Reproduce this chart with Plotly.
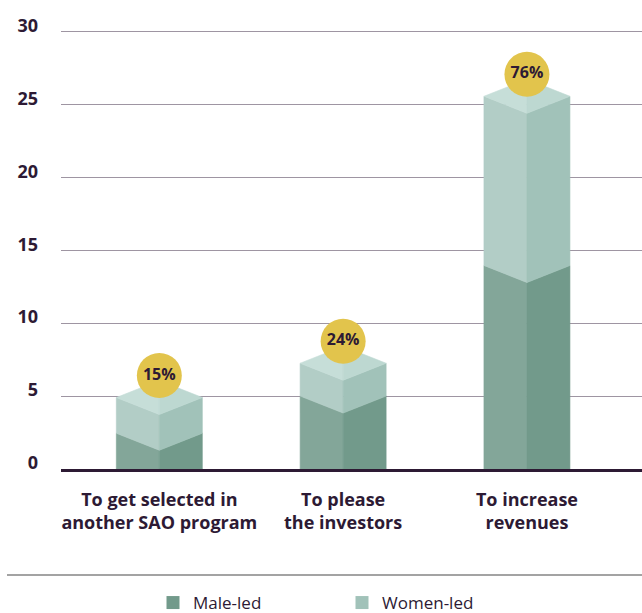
import plotly.graph_objects as go

# ---------------- data ----------------
categories = ["To get selected in<br>another SAO program", "To please<br>the investors", "To increase<br>revenues"]
male_led = [2.45, 5.0, 13.95]
women_led = [2.45, 2.25, 11.6]
share_labels = ["15%", "24%", "76%"]
legend_names = ["Male-led", "Women-led"]
y_ticks = [0, 5, 10, 15, 20, 25, 30]

# ---------------- style ----------------
W, H = 642, 613
M_L, M_R, M_T, M_B = 61, 0, 27, 144
Y_MAX = 30.3
X_RANGE = [-0.535, 2.626]
plot_w = W - M_L - M_R
plot_h = H - M_T - M_B
px_x = plot_w / (X_RANGE[1] - X_RANGE[0])
px_y = plot_h / Y_MAX

HALF_W = 43 / px_x          # half bar width in x units
DEPTH = 17 / px_y           # isometric drop in y units
BADGE_OFF = 22 / px_y       # badge centre above bar top

TXT = "#2d1a34"
C_MALE_L, C_MALE_R = "#83a699", "#729a8b"
C_WOM_L, C_WOM_R = "#b2cdc6", "#a1c2b9"
C_TOP_L, C_TOP_R = "#c6ded8", "#bdd8d1"
C_BADGE = "#e2c44c"
FONT = "Open Sans"

fig = go.Figure()


def poly(xs, ys, color):
    fig.add_trace(go.Scatter(
        x=xs + [xs[0]], y=ys + [ys[0]], mode="lines", fill="toself",
        fillcolor=color, line=dict(color=color, width=0.6),
        hoverinfo="skip", showlegend=False))


for i, (m, w) in enumerate(zip(male_led, women_led)):
    L, C, R = i - HALF_W, i, i + HALF_W
    t = m + w
    # male segment
    poly([L, L, C, C], [0, m, m - DEPTH, 0], C_MALE_L)
    poly([C, C, R, R], [0, m - DEPTH, m, 0], C_MALE_R)
    # women segment
    poly([L, L, C, C], [m, t, t - DEPTH, m - DEPTH], C_WOM_L)
    poly([C, C, R, R], [m - DEPTH, t - DEPTH, t, m], C_WOM_R)
    # top face
    poly([L, C, C], [t, t + DEPTH, t - DEPTH], C_TOP_L)
    poly([C, R, C], [t + DEPTH, t, t - DEPTH], C_TOP_R)

totals = [m + w for m, w in zip(male_led, women_led)]
fig.add_trace(go.Scatter(
    x=list(range(len(categories))), y=[t + BADGE_OFF for t in totals],
    mode="markers+text", text=share_labels, textposition="middle center",
    textfont=dict(family=FONT, size=16, color=TXT, weight=700),
    marker=dict(size=45, color=C_BADGE, line=dict(width=0)),
    hoverinfo="skip", showlegend=False, cliponaxis=False))

# legend entries
for name, col in zip(legend_names, [C_MALE_R, C_WOM_R]):
    fig.add_trace(go.Scatter(
        x=[None], y=[None], mode="markers", name=name,
        marker=dict(symbol="square", size=13, color=col)))

fig.update_layout(
    width=W, height=H,
    margin=dict(l=M_L, r=M_R, t=M_T, b=M_B, pad=0, autoexpand=False),
    paper_bgcolor="white", plot_bgcolor="white",
    font=dict(family=FONT, color=TXT),
    xaxis=dict(
        range=X_RANGE, tickmode="array", tickvals=list(range(len(categories))),
        ticktext=categories, showgrid=False, zeroline=False,
        showline=True, linecolor=TXT, linewidth=3,
        tickfont=dict(family=FONT, size=18, color=TXT, weight=700),
        ticks="", ticklabelstandoff=12, fixedrange=True, automargin=False),
    yaxis=dict(
        range=[0, Y_MAX], tickmode="array", tickvals=y_ticks,
        showgrid=True, gridcolor="#9e95a2", gridwidth=1, zeroline=False,
        tickfont=dict(family=FONT, size=18, color=TXT, weight=700),
        ticks="", ticklabelstandoff=22, ticklabelshift=-6, fixedrange=True,
        automargin=False),
    legend=dict(
        orientation="h", xref="container", x=153 / W, xanchor="left",
        yref="container", y=1 - 585 / H, yanchor="top",
        font=dict(family=FONT, size=17, color=TXT),
        entrywidth=144, bgcolor="rgba(0,0,0,0)", itemclick=False),
    shapes=[dict(type="line", xref="paper", yref="paper",
                 x0=(7 - M_L) / plot_w, x1=1.0,
                 y0=-(575 - (H - M_B)) / plot_h, y1=-(575 - (H - M_B)) / plot_h,
                 line=dict(color="#a3a3a3", width=2))],
    showlegend=True,
)

fig.write_html("out.html")
